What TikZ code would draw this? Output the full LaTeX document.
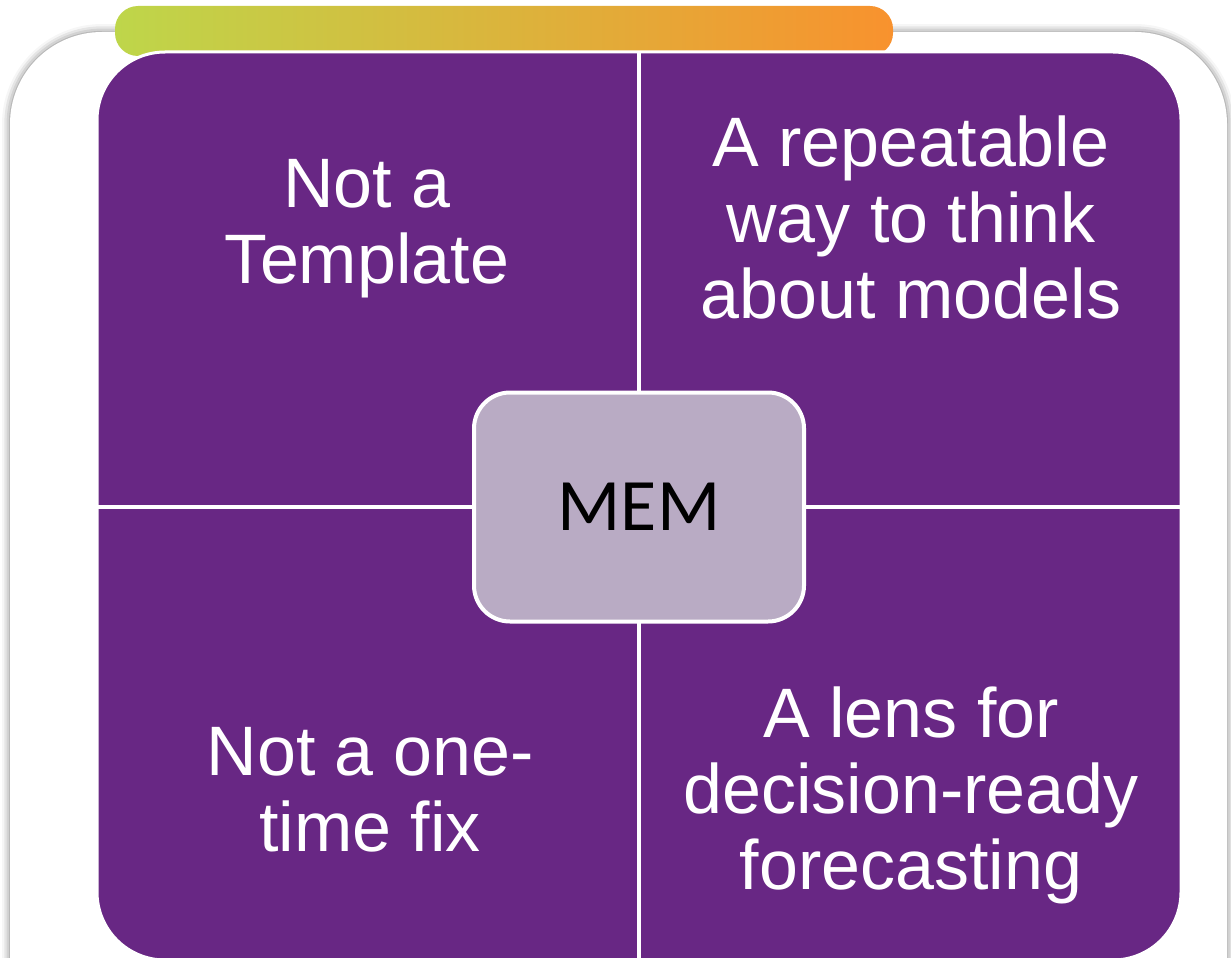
\documentclass[tikz,border=0pt]{standalone}
\usepackage{fontspec}
\setmainfont{Liberation Sans}
\newfontfamily\memfont{Carlito}
\usetikzlibrary{shadows.blur}
\definecolor{quadpurple}{HTML}{682784}
\definecolor{memlilac}{HTML}{B9ABC4}
\definecolor{barlime}{HTML}{BED64A}
\definecolor{barmid}{HTML}{D6B740}
\definecolor{barorange}{HTML}{F8922E}
\tikzset{
  quadtext/.style={text=white, align=center, anchor=base, inner sep=0pt,
    font=\fontsize{70}{76}\selectfont},
  divider/.style={draw=white, line width=4pt},
  membox/.style={draw=white, line width=4pt, fill=memlilac, rounded corners=36pt,
    minimum width=330pt, minimum height=229pt, inner sep=0pt,
    font=\memfont\fontsize{74}{80}\selectfont, text=black},
}
\begin{document}
\begin{tikzpicture}[x=1pt,y=-1pt]
\useasboundingbox (0,0) rectangle (1231,958);
\clip (0,0) rectangle (1231,958);
% white card with a soft shadow all round
\path[fill=white, rounded corners=92pt,
  blur shadow={shadow xshift=0pt, shadow yshift=0pt, shadow blur radius=8pt, shadow opacity=55}]
  (10,32) rectangle (1227,1100);
% gradient tab above the quadrants
\shade[left color=barlime, middle color=barmid, right color=barorange, rounded corners=23pt]
  (115,6) rectangle (893,56);
% purple quadrant block
\path[fill=quadpurple, draw=white, line width=3pt, rounded corners=68pt]
  (97,52) rectangle (1181,960);
% dividers between the quadrants
\draw[divider] (639,52) -- (639,960);
\draw[divider] (97,507) -- (1181,507);
% centre label
\node[membox] (mem) at (639,507) {MEM};
% quadrant texts (anchored at the baseline of their last line)
\node[quadtext] (tl) at (367,283) {Not a\\Template};
\node[quadtext] (tr) at (911,318) {A repeatable\\way to think\\about models};
\node[quadtext] (bl) at (370,851) {Not a one-\\time fix};
\node[quadtext] (br) at (911,889) {A lens for\\decision-ready\\forecasting};
\end{tikzpicture}
\end{document}
